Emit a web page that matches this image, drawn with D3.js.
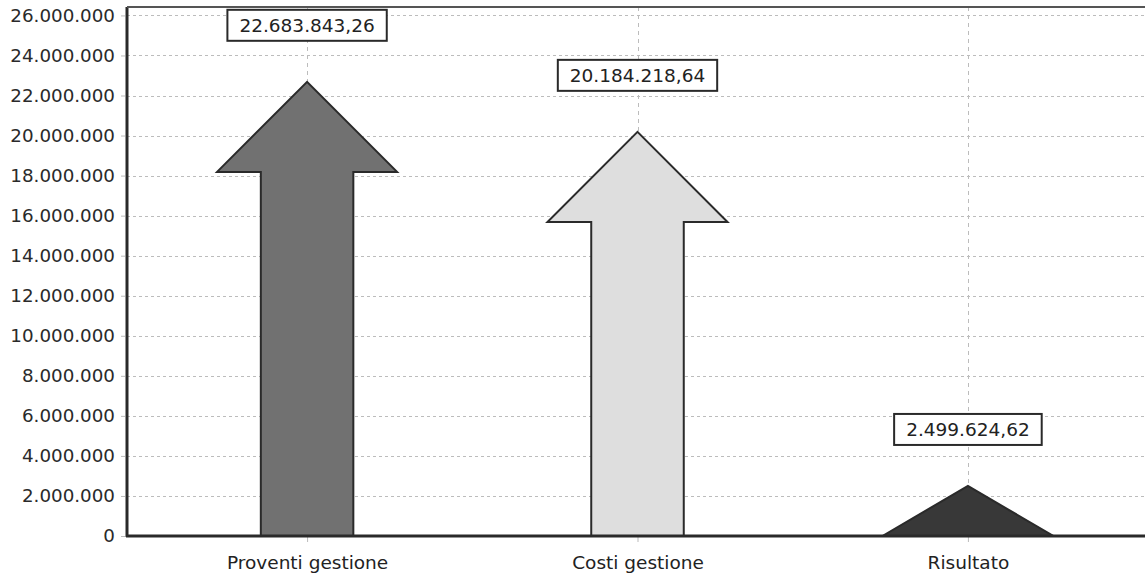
<!DOCTYPE html>
<html>
<head>
<meta charset="utf-8">
<script src="https://cdn.jsdelivr.net/npm/d3@7"></script>
<style>
  html, body { margin: 0; padding: 0; background: #fff; }
  svg { display: block; }
  text { font-family: "DejaVu Sans", Verdana, sans-serif; }
</style>
</head>
<body>
<div id="chart"></div>
<script>
const categories = ['Proventi gestione', 'Costi gestione', 'Risultato'];
const values = [22683843.26, 20184218.64, 2499624.62];
const fills = ['#717171', '#dedede', '#383838'];
const yTicks = [0, 2000000, 4000000, 6000000, 8000000, 10000000, 12000000,
    14000000, 16000000, 18000000, 20000000, 22000000, 24000000, 26000000];

function drawChart() {
    const W = 1145, H = 583;
    const plot = { left: 127, right: 1148, top: 7, bottom: 536 };

    const it = d3.formatLocale({ decimal: ',', thousands: '.', grouping: [3], currency: ['€', ''] });
    const fmtTick = it.format(',d');
    const fmtVal = it.format(',.2f');

    const svg = d3.select('#chart').append('svg')
        .attr('width', W)
        .attr('height', H);

    const x = d3.scalePoint()
        .domain(categories)
        .range([plot.left, plot.right])
        .padding(0.545);

    const y = d3.scaleLinear()
        .domain([0, 26420000])
        .range([plot.bottom, plot.top]);

    const step = x.step();
    const shaftW = step * 0.28;
    const headW = step * 0.545;
    const headLen = 4500000;

    // Grid
    svg.append('g')
        .selectAll('line')
        .data(yTicks.filter(d => d > 0))
        .join('line')
        .attr('x1', plot.left).attr('x2', W)
        .attr('y1', d => Math.round(y(d)) + 0.5).attr('y2', d => Math.round(y(d)) + 0.5)
        .attr('stroke', '#bcbcbc')
        .attr('stroke-dasharray', '3,3');

    svg.append('g')
        .selectAll('line')
        .data(categories)
        .join('line')
        .attr('x1', d => Math.round(x(d)) + 0.5).attr('x2', d => Math.round(x(d)) + 0.5)
        .attr('y1', plot.top).attr('y2', plot.bottom)
        .attr('stroke', '#bcbcbc')
        .attr('stroke-dasharray', '4,4');

    // Arrows
    function arrowPath(cat, v) {
        const cx = x(cat);
        const base = Math.max(0, v - headLen);
        const p = d3.path();
        if (base > 0) {
            p.moveTo(cx - shaftW / 2, y(0));
            p.lineTo(cx - shaftW / 2, y(base));
            p.lineTo(cx - headW / 2, y(base));
            p.lineTo(cx, y(v));
            p.lineTo(cx + headW / 2, y(base));
            p.lineTo(cx + shaftW / 2, y(base));
            p.lineTo(cx + shaftW / 2, y(0));
        } else {
            const w = headW * 0.95;
            p.moveTo(cx - w / 2, y(0));
            p.lineTo(cx, y(v));
            p.lineTo(cx + w / 2, y(0));
        }
        p.closePath();
        return p.toString();
    }

    svg.append('g')
        .selectAll('path')
        .data(categories)
        .join('path')
        .attr('d', (d, i) => arrowPath(d, values[i]))
        .attr('fill', (d, i) => fills[i])
        .attr('stroke', '#2a2a2a')
        .attr('stroke-width', 2)
        .attr('stroke-linejoin', 'miter');

    // Axes
    const yAxis = svg.append('g')
        .attr('transform', `translate(${plot.left - 2},0)`)
        .call(d3.axisLeft(y).tickValues(yTicks).tickFormat(fmtTick).tickSize(4).tickPadding(6));
    yAxis.select('.domain').remove();
    yAxis.selectAll('.tick line').attr('stroke', '#bbb');
    yAxis.selectAll('.tick text')
        .attr('font-size', 18.3)
        .attr('font-family', '"DejaVu Sans", Verdana, sans-serif')
        .attr('fill', '#2a2a2a');

    const xAxis = svg.append('g')
        .attr('transform', `translate(0,${plot.bottom + 1})`)
        .call(d3.axisBottom(x).tickSize(5).tickPadding(14));
    xAxis.select('.domain').remove();
    xAxis.selectAll('.tick line').attr('stroke', '#bbb');
    xAxis.selectAll('.tick text')
        .attr('font-size', 18.5)
        .attr('font-family', '"DejaVu Sans", Verdana, sans-serif')
        .attr('fill', '#222');

    // Frame
    svg.append('line')
        .attr('x1', plot.left).attr('x2', plot.left)
        .attr('y1', plot.top).attr('y2', plot.bottom + 1)
        .attr('stroke', '#2a2a2a').attr('stroke-width', 3);
    svg.append('line')
        .attr('x1', plot.left - 1).attr('x2', W)
        .attr('y1', plot.bottom).attr('y2', plot.bottom)
        .attr('stroke', '#2a2a2a').attr('stroke-width', 3);
    svg.append('line')
        .attr('x1', plot.left).attr('x2', W)
        .attr('y1', plot.top).attr('y2', plot.top)
        .attr('stroke', '#555').attr('stroke-width', 2);

    // Value labels
    const labels = svg.append('g')
        .selectAll('g')
        .data(categories)
        .join('g')
        .attr('transform', (d, i) => `translate(${x(d)},${y(values[i]) - 41})`);

    labels.append('text')
        .attr('text-anchor', 'middle')
        .attr('y', -9)
        .attr('font-size', 18.5)
        .attr('fill', '#222')
        .text((d, i) => fmtVal(values[i]));

    labels.each(function () {
        const g = d3.select(this);
        const bb = g.select('text').node().getBBox();
        g.insert('rect', 'text')
            .attr('x', bb.x - 12)
            .attr('y', -31)
            .attr('width', bb.width + 24)
            .attr('height', 31)
            .attr('fill', '#fff')
            .attr('stroke', '#2a2a2a')
            .attr('stroke-width', 2);
    });
}

drawChart();
</script>
</body>
</html>
